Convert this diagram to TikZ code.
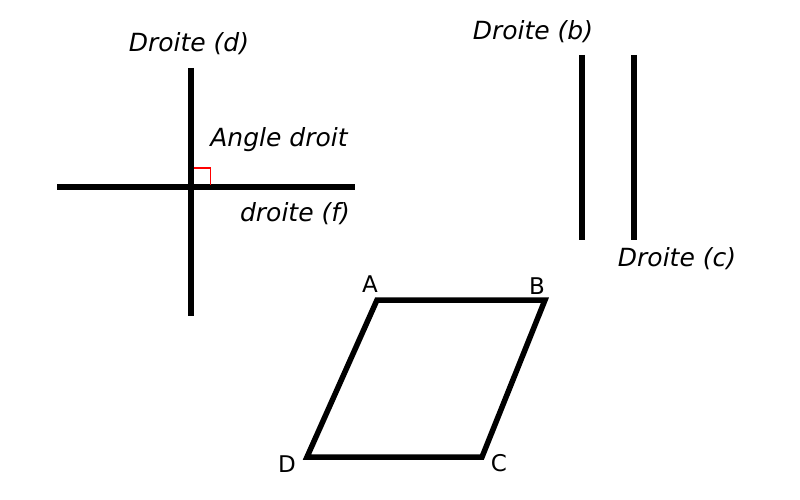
\documentclass[tikz,border=0pt]{standalone}
\usepackage{fontspec}
\setmainfont{DejaVu Sans}
\begin{document}
\begin{tikzpicture}[x=1pt,y=-1pt,
  ligne/.style={line width=5.5pt,black},
  lbl/.style={font=\fontsize{25}{28}\selectfont\itshape,inner sep=0pt,anchor=center},
  pt/.style={font=\fontsize{23}{26}\selectfont,inner sep=0pt,anchor=center}]
\useasboundingbox (0,0) rectangle (800,500);
% perpendicular lines
\coordinate (dtop) at (191,68);
\coordinate (dbot) at (191,316);
\coordinate (fl) at (57,187);
\coordinate (fr) at (355,187);
\draw[ligne] (dtop) -- (dbot);
\draw[ligne] (fl) -- (fr);
\coordinate (r1) at (193.5,168);
\coordinate (r2) at (210.5,168);
\coordinate (r3) at (210.5,184.5);
\draw[red,line width=1.3pt] (r1) -- (r2) -- (r3);
\node[lbl] (ld) at (189,44) {Droite (d)};
\node[lbl] (la) at (279,140) {Angle droit};
\node[lbl] (lf) at (295,214) {droite (f)};
% parallel lines
\coordinate (btop) at (582,55);
\coordinate (bbot) at (582,240);
\coordinate (ctop) at (634,55);
\coordinate (cbot) at (634,240);
\draw[ligne] (btop) -- (bbot);
\draw[ligne] (ctop) -- (cbot);
\node[lbl] (lb) at (533,32) {Droite (b)};
\node[lbl] (lc) at (677,259) {Droite (c)};
% parallelogram
\coordinate (A) at (377,300);
\coordinate (B) at (545,300);
\coordinate (C) at (482,457);
\coordinate (D) at (307,457);
\draw[ligne,line join=miter] (A) -- (B) -- (C) -- (D) -- cycle;
\node[pt] (nA) at (370,284) {A};
\node[pt] (nB) at (537,286) {B};
\node[pt] (nC) at (499,463) {C};
\node[pt] (nD) at (287,464) {D};
\end{tikzpicture}
\end{document}
